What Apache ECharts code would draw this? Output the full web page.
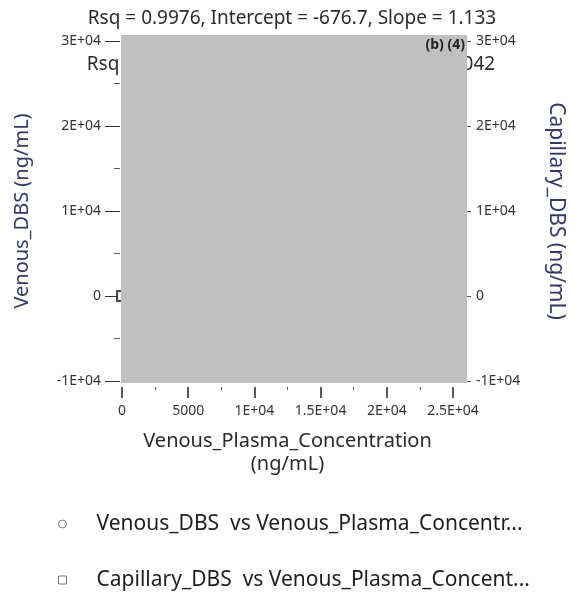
<!DOCTYPE html>
<html>
<head>
<meta charset="utf-8">
<script src="https://cdn.jsdelivr.net/npm/echarts@6/dist/echarts.min.js"></script>
<style>html,body{margin:0;padding:0;background:#fff}#c{width:574px;height:592px}</style>
</head>
<body>
<div id="c"></div>
<script>
const titleText = 'Rsq = 0.9976, Intercept = -676.7, Slope = 1.133';
const hiddenTitleText = 'Rsq = 0.9969, Intercept = -412.6, Slope = 1.042';
const redactionLabel = '(b) (4)';
const xTickValues = [0, 5000, 10000, 15000, 20000, 25000];
const xTickLabels = ['0', '5000', '1E+04', '1.5E+04', '2E+04', '2.5E+04'];
const yTickValues = [-10000, 0, 10000, 20000, 30000];
const yTickLabels = ['-1E+04', '0', '1E+04', '2E+04', '3E+04'];
const seriesNames = ['Venous_DBS  vs Venous_Plasma_Concentration', 'Capillary_DBS  vs Venous_Plasma_Concentration'];
const legendLabels = ['Venous_DBS  vs Venous_Plasma_Concentr...', 'Capillary_DBS  vs Venous_Plasma_Concent...'];
const venousX = [0, 1200, 4800, 9500, 15800, 21000];
const venousY = [0, 700, 4600, 10100, 17300, 23100];
const capillaryX = [0, 1200, 4800, 9500, 15800, 21000];
const capillaryY = [0, 900, 4700, 9600, 16200, 21500];

const FONT = '"Noto Sans", "Open Sans", sans-serif';
function fmt(vals, labs) { return v => { const i = vals.indexOf(v); return i >= 0 ? labs[i] : ''; }; }

const chart = echarts.init(document.getElementById('c'), null, {renderer: 'canvas'});
chart.setOption({
  animation: false,
  backgroundColor: '#ffffff',
  textStyle: {fontFamily: FONT},
  title: [
    {text: titleText, left: 287, textAlign: 'center', top: 4, z: 6,
     textStyle: {fontFamily: FONT, fontSize: 19, fontWeight: 'normal', color: '#2b2b2b'}},
    {text: hiddenTitleText, left: 286, textAlign: 'center', top: 50, z: 1,
     textStyle: {fontFamily: FONT, fontSize: 19, fontWeight: 'normal', color: '#2b2b2b'}}
  ],
  grid: {left: 122, right: 113, top: 41, bottom: 211},
  xAxis: {
    type: 'value', min: 0, max: 25000, interval: 5000, offset: 6,
    axisLine: {show: false, onZero: false},
    axisTick: {show: true, length: 11, lineStyle: {color: '#222', width: 1.5}},
    minorTick: {show: true, splitNumber: 2, length: 3, lineStyle: {color: '#555'}},
    splitLine: {show: false},
    axisLabel: {formatter: fmt(xTickValues, xTickLabels), fontSize: 14, color: '#333', margin: 17, fontFamily: FONT},
    name: 'Venous_Plasma_Concentration\n(ng/mL)', nameLocation: 'middle', nameGap: 43,
    nameTextStyle: {fontSize: 20, color: '#2b2b2b', fontFamily: FONT, lineHeight: 23}
  },
  yAxis: [
    {
      type: 'value', min: -10000, max: 30000, interval: 10000, position: 'left', offset: 2,
      axisLine: {show: false, onZero: false},
      axisTick: {show: true, length: 15, lineStyle: {color: '#333'}},
      minorTick: {show: true, splitNumber: 2, length: 6, lineStyle: {color: '#555'}},
      splitLine: {show: false},
      axisLabel: {formatter: fmt(yTickValues, yTickLabels), fontSize: 14, color: '#333', margin: 19, fontFamily: FONT},
      name: 'Venous_DBS (ng/mL)', nameLocation: 'middle', nameGap: 88, nameRotate: 90,
      nameTextStyle: {fontSize: 20, color: '#2f3a66', fontFamily: FONT}
    },
    {
      type: 'value', min: -10000, max: 30000, interval: 10000, position: 'right', offset: 6,
      axisLine: {show: false, onZero: false},
      axisTick: {show: true, length: 12, lineStyle: {color: '#555'}},
      minorTick: {show: true, splitNumber: 2, length: 4, lineStyle: {color: '#666'}},
      splitLine: {show: false},
      axisLabel: {formatter: fmt(yTickValues, yTickLabels), fontSize: 14, color: '#333', margin: 17, fontFamily: FONT},
      name: 'Capillary_DBS (ng/mL)', nameLocation: 'middle', nameGap: 86, nameRotate: -90,
      nameTextStyle: {fontSize: 21, color: '#2f3a66', fontFamily: FONT}
    }
  ],
  legend: {
    orient: 'vertical', left: 53, top: 508, height: 100, itemGap: 34, itemWidth: 8, itemHeight: 8,
    data: [
      {name: seriesNames[0], icon: 'circle', itemStyle: {color: '#ffffff', borderColor: '#555', borderWidth: 1}},
      {name: seriesNames[1], icon: 'rect', itemStyle: {color: '#ffffff', borderColor: '#555', borderWidth: 1}}
    ],
    formatter: n => legendLabels[seriesNames.indexOf(n)],
    textStyle: {fontSize: 21, lineHeight: 22, color: '#1e1e1e', fontFamily: FONT, padding: [0, 0, 0, 25]}
  },
  series: [
    {name: seriesNames[0], type: 'scatter', yAxisIndex: 0, symbol: 'emptyCircle', symbolSize: 9,
     itemStyle: {color: '#333', borderColor: '#333', borderWidth: 1.2}, clip: false,
     data: venousX.map((x, i) => [x, venousY[i]])},
    {name: seriesNames[1], type: 'scatter', yAxisIndex: 1, symbol: 'emptyRect', symbolSize: 10,
     itemStyle: {color: '#222', borderColor: '#222', borderWidth: 1.2}, clip: false,
     data: capillaryX.map((x, i) => [x, capillaryY[i]])}
  ],
  graphic: [
    {type: 'rect', z: 100, shape: {x: 121, y: 35, width: 346, height: 348}, style: {fill: '#c0c0c0'}},
    {type: 'text', z: 101, right: 109, top: 38,
     style: {text: redactionLabel, font: 'bold 14px ' + FONT, fill: '#222'}}
  ]
});
</script>
</body>
</html>
